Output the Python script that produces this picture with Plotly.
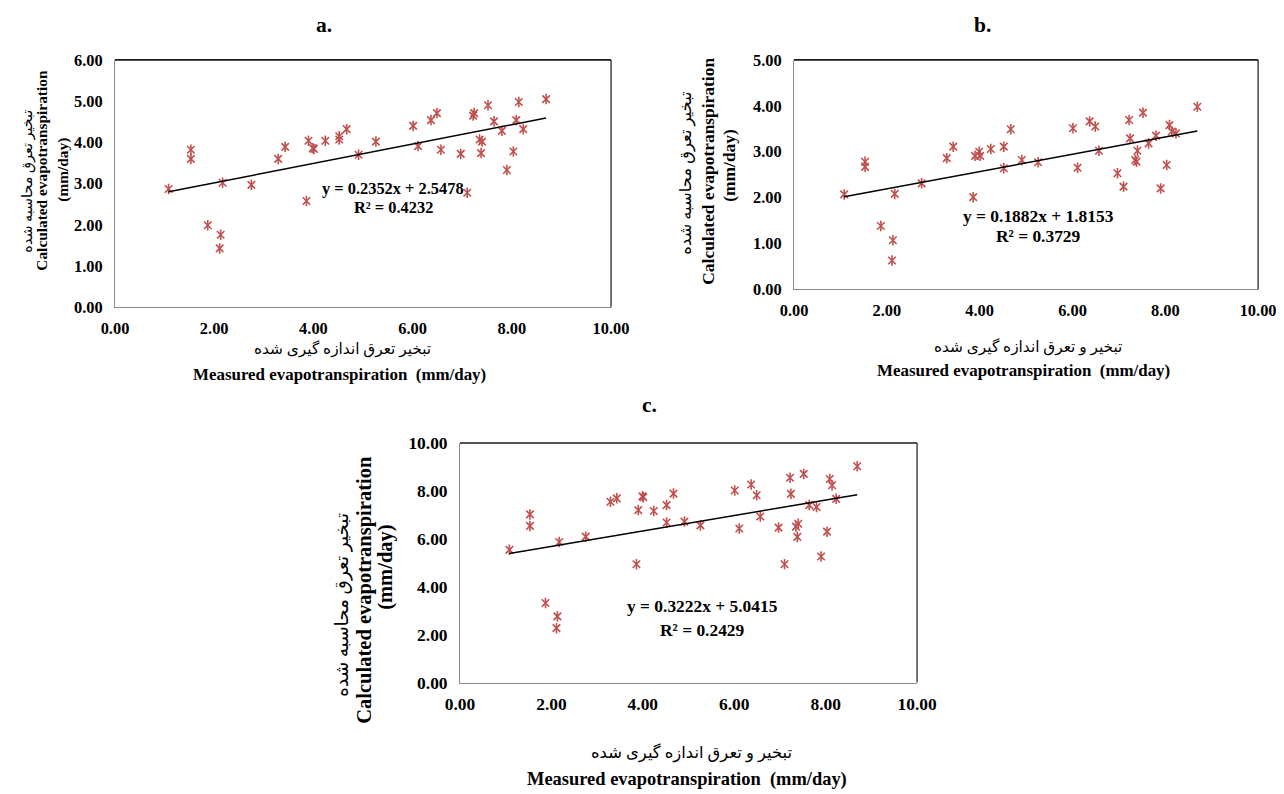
import plotly.graph_objects as go

# measured ET (same for all three panels)
measured = [1.08, 1.53, 1.53, 1.87, 2.11, 2.13, 2.17, 2.75, 3.29, 3.43,
            3.86, 3.90, 3.99, 4.01, 4.24, 4.52, 4.52, 4.67, 4.91, 5.26,
            6.01, 6.11, 6.37, 6.49, 6.57, 6.97, 7.10, 7.22, 7.24, 7.35,
            7.38, 7.40, 7.52, 7.64, 7.80, 7.90, 8.03, 8.09, 8.14, 8.23, 8.69]

calc_a = [2.87, 3.82, 3.60, 1.99, 1.43, 1.76, 3.02, 2.97, 3.60, 3.89,
          2.58, 4.04, 3.86, 3.84, 4.04, 4.15, 4.07, 4.32, 3.70, 4.02,
          4.40, 3.91, 4.54, 4.71, 3.82, 3.72, 2.78, 4.65, 4.71, 4.07,
          3.74, 4.02, 4.90, 4.51, 4.28, 3.33, 3.78, 4.54, 4.98, 4.32, 5.05]

calc_b = [2.07, 2.78, 2.67, 1.38, 0.63, 1.07, 2.08, 2.31, 2.86, 3.11,
          2.01, 2.91, 3.00, 2.91, 3.06, 3.11, 2.64, 3.49, 2.82, 2.77,
          3.51, 2.65, 3.66, 3.55, 3.02, 2.53, 2.24, 3.69, 3.29, 2.82,
          2.78, 3.02, 3.85, 3.18, 3.35, 2.20, 2.71, 3.58, 3.44, 3.40, 3.98]

calc_c = [5.54, 7.02, 6.54, 3.32, 2.27, 2.76, 5.87, 6.09, 7.55, 7.69,
          4.94, 7.20, 7.78, 7.74, 7.16, 7.41, 6.68, 7.89, 6.72, 6.56,
          8.02, 6.43, 8.27, 7.82, 6.93, 6.47, 4.94, 8.55, 7.88, 6.51,
          6.08, 6.63, 8.71, 7.41, 7.33, 5.26, 6.30, 8.50, 8.24, 7.67, 9.03]

# trendline coefficients shown on the chart
slopes = [0.2352, 0.1882, 0.3222]
intercepts = [2.5478, 1.8153, 5.0415]
r2 = [0.4232, 0.3729, 0.2429]
labels = ['a.', 'b.', 'c.']

fa_calc = 'تبخیر تعرق محاسبه شده'
fa_meas_a = 'تبخیر تعرق اندازه گیری شده'
fa_meas_bc = 'تبخیر و تعرق اندازه گیری شده'
en_meas = 'Measured evapotranspiration  (mm/day)'
en_calc = 'Calculated evapotranspiration'

FONT = 'Liberation Serif, DejaVu Sans, serif'
RED = '#C0504D'

W, H = 1300, 794
# the photographed page comes out slightly shrunk and shifted; these undo it
SX, SY = 0.973, 0.977
OX, OY = 22, 16
FS = 1.025


def px(x):
    return (x - OX) / SX / W


def py(y):
    return 1 - (y - OY) / SY / H


fig = go.Figure()

# panel boxes in target pixels (left, right, top, bottom)
boxes = [(114, 610, 58, 306), (793, 1257, 58, 288), (459, 916, 442, 682)]
ymax = [6, 5, 10]
ydt = [1, 1, 2]
fsize = [16, 16, 17]

shapes = []
for i, ys in enumerate([calc_a, calc_b, calc_c]):
    sfx = '' if i == 0 else str(i + 1)
    l, r, t, b = boxes[i]
    tf = dict(family=FONT, size=fsize[i] * FS, color='black', weight='bold')
    fig.update_layout(**{
        'xaxis' + sfx: dict(domain=[px(l), px(r)], anchor='y' + sfx, range=[0, 10], dtick=2,
                            tickformat='.2f', showgrid=False, zeroline=False, showline=True,
                            linecolor='#8c8c8c', linewidth=1, ticks='', ticklabelstandoff=6,
                            tickfont=tf),
        'yaxis' + sfx: dict(domain=[py(b), py(t)], anchor='x' + sfx, range=[0, ymax[i]],
                            dtick=ydt[i], tickformat='.2f', showgrid=False, zeroline=False,
                            showline=True, linecolor='#8c8c8c', linewidth=1, ticks='',
                            ticklabelstandoff=8, tickfont=tf),
    })
    xa, ya = 'x' + sfx, 'y' + sfx
    # darker top and right border of the plot area
    shapes.append(dict(type='line', xref=xa + ' domain', yref=ya + ' domain', x0=0, x1=1, y0=1, y1=1,
                       line=dict(color='#1a1a1a', width=1.6)))
    shapes.append(dict(type='line', xref=xa + ' domain', yref=ya + ' domain', x0=1, x1=1, y0=0, y1=1,
                       line=dict(color='#1a1a1a', width=1.2)))

    # excel-like star marker: x plus vertical stroke
    for sym in ['x-thin-open', 'line-ns-open']:
        fig.add_trace(go.Scatter(x=measured, y=ys, mode='markers', xaxis=xa, yaxis=ya,
                                 marker=dict(symbol=sym, size=7.5, color=RED,
                                             line=dict(color=RED, width=1.6)),
                                 showlegend=False))

    # linear trendline
    x0, x1 = min(measured), max(measured)
    fig.add_trace(go.Scatter(x=[x0, x1],
                             y=[slopes[i] * x0 + intercepts[i], slopes[i] * x1 + intercepts[i]],
                             mode='lines', xaxis=xa, yaxis=ya,
                             line=dict(color='black', width=1.5), showlegend=False))

ann = []


def note(x, y, text, size, angle=0, bold=False):
    if bold:
        text = '<b>%s</b>' % text
    ann.append(dict(x=px(x), y=py(y), xref='paper', yref='paper', text=text, textangle=angle,
                    xanchor='center', yanchor='middle', showarrow=False,
                    font=dict(family=FONT, size=size * FS, color='black')))


# equation labels: (x, y line1, y line2, size)
eq_pos = [(392, 187, 206, 16), (1037, 214, 234, 17), (701, 605, 629, 17)]
for i, (ex, ey1, ey2, s) in enumerate(eq_pos):
    note(ex, ey1, 'y = %.4fx + %.4f' % (slopes[i], intercepts[i]), s, bold=True)
    note(ex, ey2, 'R² = %.4f' % r2[i], s, bold=True)

# panel letters
for lab, (lx, ly) in zip(labels, [(323, 23), (981, 23), (648, 404)]):
    note(lx, ly, lab, 21, bold=True)

# x titles: persian line, english line
note(341, 348, fa_meas_a, 15)
note(338, 373, en_meas, 16.5, bold=True)
note(1027, 346, fa_meas_bc, 15)
note(1022, 369, en_meas, 16.5, bold=True)
note(690, 753, fa_meas_bc, 16)
note(686, 779, en_meas, 18, bold=True)

# y titles: persian, english, units
note(27, 180, fa_calc, 14, -90)
note(41, 169, en_calc, 15, -90, True)
note(62, 168, '(mm/day)', 15, -90, True)
note(685, 172, fa_calc, 16, -90)
note(707, 170, en_calc, 17, -90, True)
note(728, 164, '(mm/day)', 17, -90, True)
note(342, 604, fa_calc, 18, -90)
note(364, 589, en_calc, 20, -90, True)
note(385, 567, '(mm/day)', 20, -90, True)

fig.update_layout(width=W, height=H, margin=dict(l=0, r=0, t=0, b=0),
                  paper_bgcolor='white', plot_bgcolor='white',
                  annotations=ann, shapes=shapes)

fig.write_html("out.html")
